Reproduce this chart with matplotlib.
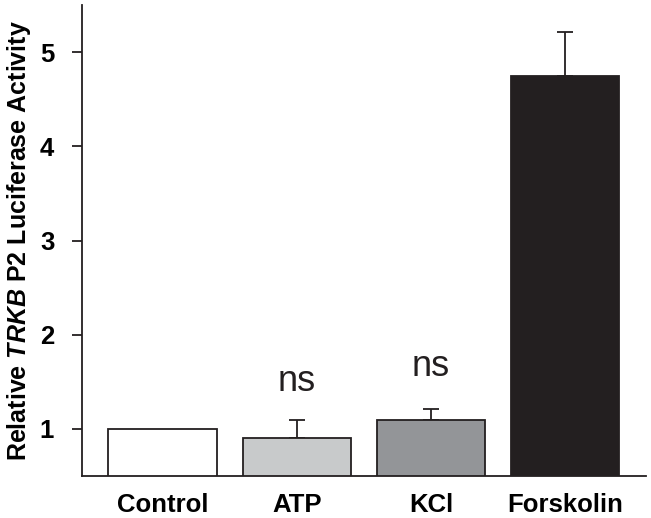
import matplotlib
matplotlib.use("Agg")
import matplotlib.pyplot as plt
import numpy as np

plt.rcParams['font.family'] = ['Liberation Sans', 'DejaVu Sans']
plt.rcParams['mathtext.fontset'] = 'custom'
plt.rcParams['mathtext.it'] = 'Liberation Sans:italic:bold'
plt.rcParams['mathtext.rm'] = 'Liberation Sans:bold'

categories = ["Control", "ATP", "KCl", "Forskolin"]
values = [1.0, 0.9, 1.10, 4.75]
errors = [0.0, 0.19, 0.115, 0.46]
colors = ["#ffffff", "#c8cacb", "#939598", "#231f20"]
annotations = ["", "ns", "ns", ""]
annot_y = [0, 1.5, 1.66, 0]
yticks = [1, 2, 3, 4, 5]

dark = "#231f20"

fig = plt.figure(figsize=(6.51, 5.18), dpi=100)
ax = fig.add_axes([0.126, 0.081, 0.866, 0.909])

x = np.arange(len(categories))
ax.bar(x, values, width=0.806, bottom=0, color=colors, edgecolor=dark,
       linewidth=1.3, zorder=2)
# upper error bars only
err_x = [xi for xi, e in zip(x, errors) if e > 0]
err_v = [v for v, e in zip(values, errors) if e > 0]
err_e = [e for e in errors if e > 0]
ax.errorbar(err_x, err_v, yerr=[np.zeros(len(err_e)), err_e], fmt='none',
            ecolor=dark, elinewidth=1.3, capsize=6, capthick=1.3, zorder=1)

for xi, txt, ty in zip(x, annotations, annot_y):
    if txt:
        ax.text(xi, ty, txt, ha='center', va='center', fontsize=26,
                color=dark)

ax.set_xlim(-0.6, 3.6)
ax.set_ylim(0.5, 5.5)
ax.set_yticks(yticks)
ax.set_yticklabels([str(t) for t in yticks], fontsize=18.5, fontweight='bold')
ax.set_xticks(x)
ax.set_xticklabels(categories, fontsize=18.5, fontweight='bold')
ax.tick_params(axis='x', length=0, pad=12)
ax.tick_params(axis='y', length=7, width=1.3, direction='out', pad=13,
               color=dark)
ax.spines['top'].set_visible(False)
ax.spines['right'].set_visible(False)
for s in ['left', 'bottom']:
    ax.spines[s].set_linewidth(1.3)
    ax.spines[s].set_color(dark)

ax.set_ylabel(r"Relative $\it{TRKB}$ P2 Luciferase Activity", fontsize=18,
              fontweight='bold', labelpad=5)

fig.savefig("out.png", dpi=100)
